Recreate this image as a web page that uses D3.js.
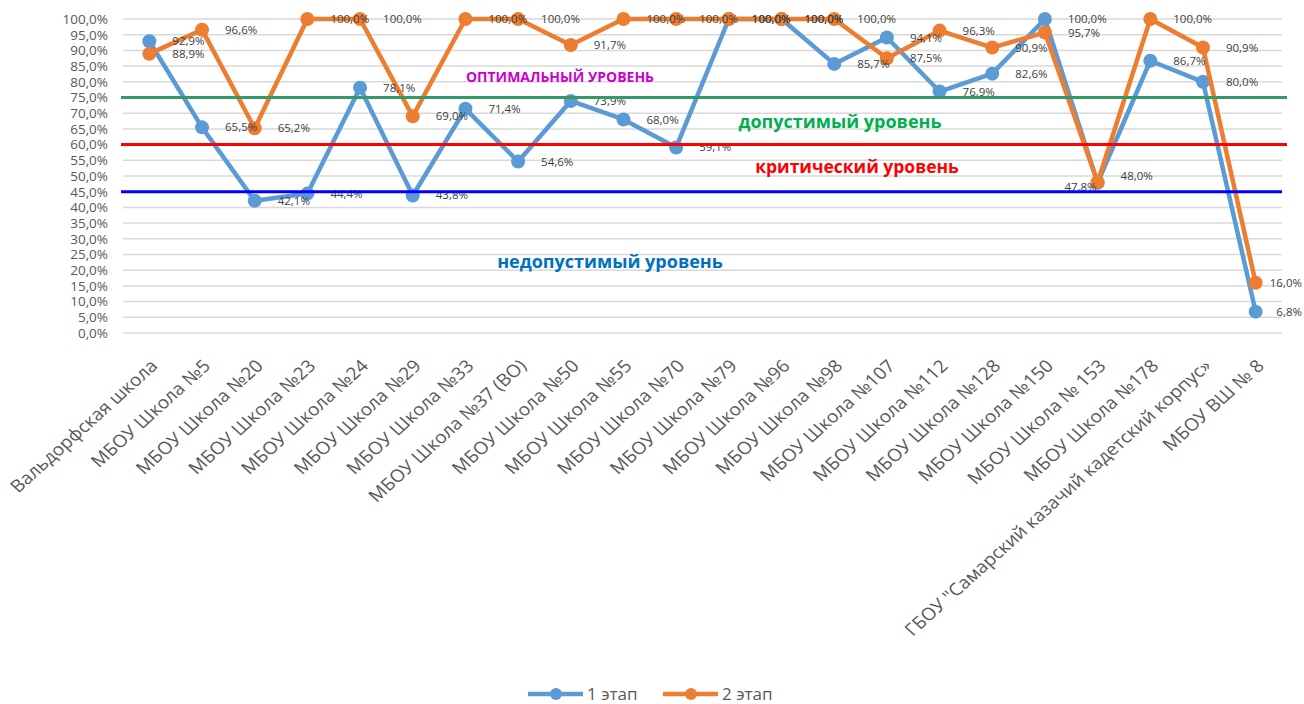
<!DOCTYPE html>
<html>
<head>
<meta charset="utf-8">
<script src="https://cdn.jsdelivr.net/npm/d3@7"></script>
<style>
  html, body { margin: 0; padding: 0; background: #ffffff; }
  svg { display: block; }
</style>
</head>
<body>
<svg id="chart" width="1304" height="704"></svg>
<script>
const categories = [
  "Вальдорфская школа", "МБОУ Школа №5", "МБОУ Школа №20", "МБОУ Школа №23",
  "МБОУ Школа №24", "МБОУ Школа №29", "МБОУ Школа №33", "МБОУ Школа №37 (ВО)",
  "МБОУ Школа №50", "МБОУ Школа №55", "МБОУ Школа №70", "МБОУ Школа №79",
  "МБОУ Школа №96", "МБОУ Школа №98", "МБОУ Школа №107", "МБОУ Школа №112",
  "МБОУ Школа №128", "МБОУ Школа №150", "МБОУ Школа № 153", "МБОУ Школа №178",
  "ГБОУ \"Самарский казачий кадетский корпус»", "МБОУ ВШ № 8"
];
const stage1 = [92.9, 65.5, 42.1, 44.4, 78.1, 43.8, 71.4, 54.6, 73.9, 68.0, 59.1,
                100.0, 100.0, 85.7, 94.1, 76.9, 82.6, 100.0, 47.8, 86.7, 80.0, 6.8];
const stage2 = [88.9, 96.6, 65.2, 100.0, 100.0, 69.0, 100.0, 100.0, 91.7, 100.0, 100.0,
                100.0, 100.0, 100.0, 87.5, 96.3, 90.9, 95.7, 48.0, 100.0, 90.9, 16.0];
const seriesNames = ["1 этап", "2 этап"];
const yTicks = [0, 5, 10, 15, 20, 25, 30, 35, 40, 45, 50, 55, 60, 65, 70, 75, 80, 85, 90, 95, 100];
const levelValues = [75, 60, 45];
const levelNames = ["ОПТИМАЛЬНЫЙ УРОВЕНЬ", "допустимый уровень", "критический уровень", "недопустимый уровень"];

const svg = d3.select("#chart");
const W = 1304;
const plot = { left: 123, right: 1282, top: 19, bottom: 333 };

const x = d3.scalePoint().domain(categories).range([plot.left, plot.right]).padding(0.5);
const y = d3.scaleLinear().domain([0, 100]).range([plot.bottom, plot.top]);
const fmt = v => d3.format(".1f")(v).replace(".", ",") + "%";

const FONT = "'Open Sans', 'Noto Sans', sans-serif";

// gridlines
svg.append("g").selectAll("line").data(yTicks).join("line")
  .attr("x1", plot.left).attr("x2", plot.right)
  .attr("y1", d => y(d)).attr("y2", d => y(d))
  .attr("stroke", "#d9d9d9").attr("stroke-width", 1.5);

// y axis labels
const yAxis = d3.axisLeft(y).tickValues(yTicks).tickFormat(fmt).tickSize(0).tickPadding(15);
const gy = svg.append("g").attr("transform", `translate(${plot.left},0)`).call(yAxis);
gy.select(".domain").remove();
gy.selectAll("text").attr("fill", "#595959").style("font-family", FONT).style("font-size", "13.5px");

// x axis labels
const xAxis = d3.axisBottom(x).tickSize(0).tickPadding(0);
const gx = svg.append("g").attr("transform", `translate(0,${plot.bottom})`).call(xAxis);
gx.select(".domain").remove();
gx.selectAll("text")
  .attr("fill", "#595959")
  .style("font-family", FONT).style("font-size", "17.3px")
  .attr("text-anchor", "end")
  .attr("dy", null).attr("y", 0)
  .attr("transform", "translate(9,34) scale(1.11,1) rotate(-45)");

// series
const series = [
  { name: seriesNames[0], values: stage1, color: "#5b9bd5" },
  { name: seriesNames[1], values: stage2, color: "#ed7d31" }
];
const line = d3.line().x((d, i) => x(categories[i])).y(d => y(d));

series.forEach(s => {
  const g = svg.append("g");
  g.append("path").datum(s.values).attr("d", line)
    .attr("fill", "none").attr("stroke", s.color).attr("stroke-width", 4.5)
    .attr("stroke-linejoin", "round");
  g.selectAll("circle").data(s.values).join("circle")
    .attr("cx", (d, i) => x(categories[i])).attr("cy", d => y(d)).attr("r", 7)
    .attr("fill", s.color);
});

// data labels
series.forEach((s, si) => {
  const other = series[1 - si].values;
  svg.append("g").selectAll("text").data(s.values).join("text")
    .attr("fill", "#404040")
    .style("font-family", FONT).style("font-size", "11.5px")
    .attr("dy", "0.35em")
    .text(d => fmt(d))
    .each(function (d, i) {
      const t = d3.select(this);
      const px = x(categories[i]), py = y(d);
      const close = Math.abs(d - other[i]) > 0 && Math.abs(d - other[i]) < 1;
      if (close && si === 0) {
        t.attr("text-anchor", "end").attr("x", px - 1).attr("y", py + 4);
      } else {
        let lx = px + 23;
        const w = this.getComputedTextLength();
        if (lx + w > W - 2) lx = W - 2 - w;
        t.attr("x", lx).attr("y", close ? py - 6 : py);
      }
    });
});

// level lines
const levelColors = ["#339966", "#ff0000", "#0000ff"];
const levelRight = [1287, 1287, 1282];
svg.append("g").selectAll("line").data(levelValues).join("line")
  .attr("x1", plot.left - 2).attr("x2", (d, i) => levelRight[i])
  .attr("y1", d => y(d)).attr("y2", d => y(d))
  .attr("stroke", (d, i) => levelColors[i]).attr("stroke-width", 3);

// level annotations
const annot = [
  { t: levelNames[0], x: 560, y: 82, c: "#cc00cc", s: 14 },
  { t: levelNames[1], x: 840, y: 128, c: "#00b050", s: 18 },
  { t: levelNames[2], x: 857, y: 173, c: "#ff0000", s: 17.5 },
  { t: levelNames[3], x: 610, y: 268, c: "#0070c0", s: 18 }
];
svg.append("g").selectAll("text").data(annot).join("text")
  .attr("x", d => d.x).attr("y", d => d.y)
  .attr("text-anchor", "middle")
  .attr("fill", d => d.c)
  .style("font-family", FONT).style("font-weight", "bold")
  .style("font-size", d => d.s + "px")
  .text(d => d.t);

// legend
const legend = svg.append("g");
const legendX = [528, 663];
series.forEach((s, i) => {
  const lx = legendX[i];
  legend.append("line").attr("x1", lx).attr("x2", lx + 55).attr("y1", 694).attr("y2", 694)
    .attr("stroke", s.color).attr("stroke-width", 4.5);
  legend.append("circle").attr("cx", lx + 28).attr("cy", 694).attr("r", 6).attr("fill", s.color);
  legend.append("text").attr("x", lx + 59).attr("y", 694).attr("dy", "0.35em")
    .attr("fill", "#595959").style("font-family", FONT).style("font-size", "17px")
    .text(s.name);
});
</script>
</body>
</html>
